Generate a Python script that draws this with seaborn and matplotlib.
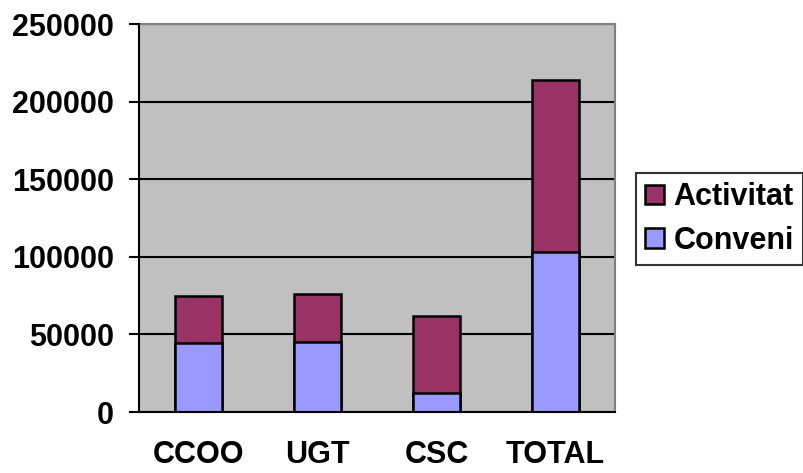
import matplotlib
matplotlib.use("Agg")
import matplotlib.pyplot as plt
from matplotlib.patches import Patch
import seaborn as sns
import numpy as np

# values
categories = ["CCOO", "UGT", "CSC", "TOTAL"]
conveni = [44700, 45300, 12100, 103300]
activitat = [30000, 30700, 50000, 110600]
y_ticks = [0, 50000, 100000, 150000, 200000, 250000]

ACT_COLOR = "#993366"
CONV_COLOR = "#9999FF"
FS = 22

sns.set_style("white")
plt.rcParams["font.family"] = ["Liberation Sans", "DejaVu Sans"]
plt.rcParams["font.weight"] = "bold"
plt.rcParams["text.color"] = "black"
plt.rcParams["xtick.color"] = "black"
plt.rcParams["ytick.color"] = "black"
plt.rcParams["xtick.labelcolor"] = "black"
plt.rcParams["ytick.labelcolor"] = "black"

fig = plt.figure(figsize=(8.04, 4.73), dpi=100)
ax = fig.add_axes([139 / 804, 61 / 473, 476 / 804, 388 / 473])
ax.set_facecolor("#C0C0C0")

totals = np.array(conveni) + np.array(activitat)
sns.barplot(x=categories, y=totals, color=ACT_COLOR, width=0.4, ax=ax,
            edgecolor="black", linewidth=1.8, saturation=1, zorder=3)
sns.barplot(x=categories, y=conveni, color=CONV_COLOR, width=0.4, ax=ax,
            edgecolor="black", linewidth=1.8, saturation=1, zorder=4)

ax.set_ylim(0, 250000)
ax.set_xlim(-0.5, 3.5)
ax.set_yticks(y_ticks)
ax.set_yticklabels([str(v) for v in y_ticks], fontsize=FS, fontweight="bold", color="black")
ax.yaxis.grid(True, color="black", linewidth=1.5, zorder=1)
ax.set_axisbelow(True)

ax.set_xticks(range(len(categories)))
ax.set_xticklabels(categories, fontsize=FS, fontweight="bold", color="black")
ax.tick_params(axis="x", which="major", length=0, pad=20)
ax.set_xticks([-0.5, 0.5, 1.5, 2.5, 3.5], minor=True)
ax.tick_params(axis="x", which="minor", length=7, width=1.5, color="black", direction="out")
ax.tick_params(axis="y", length=7, width=1.5, color="black", direction="out", left=True, pad=11)

ax.set_xlabel("")
ax.set_ylabel("")

for side in ["left", "bottom"]:
    ax.spines[side].set_color("black")
    ax.spines[side].set_linewidth(1.5)
for side in ["top", "right"]:
    ax.spines[side].set_color("#808080")
    ax.spines[side].set_linewidth(1.5)
ax.spines["left"].set_zorder(5)
ax.spines["bottom"].set_zorder(5)

handles = [Patch(facecolor=ACT_COLOR, edgecolor="black", linewidth=1.8),
           Patch(facecolor=CONV_COLOR, edgecolor="black", linewidth=1.8)]
leg = fig.legend(handles, ["Activitat", "Conveni"], loc="upper left",
                 bbox_to_anchor=(636 / 804, 1 - 173 / 473),
                 prop={"size": FS, "weight": "bold"}, labelcolor="black",
                 frameon=True, fancybox=False, handlelength=0.62, handleheight=0.62,
                 handletextpad=0.3, borderpad=0.3, labelspacing=0.45, borderaxespad=0)
leg.get_frame().set_edgecolor("black")
leg.get_frame().set_linewidth(1.5)

fig.savefig("out.png", dpi=100)
